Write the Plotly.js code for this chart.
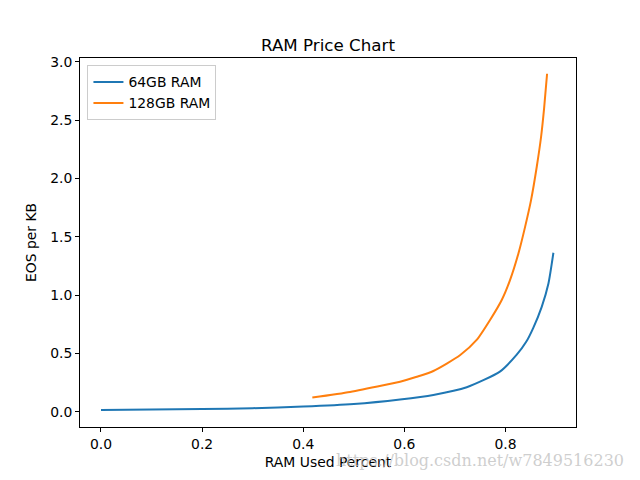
<!DOCTYPE html>
<html>
<head>
<meta charset="utf-8">
<script src="https://cdn.plot.ly/plotly-3.0.1.min.js"></script>
<style>
  html, body { margin: 0; padding: 0; background: #fff; }
  #chart { width: 640px; height: 480px; }
</style>
</head>
<body>
<div id="chart"></div>
<script>
// values
const usedPct64 = [0.0, 0.1, 0.2, 0.3, 0.4, 0.5, 0.5915, 0.6574, 0.7234, 0.789, 0.8223, 0.841, 0.855, 0.8717, 0.885, 0.8948];
const price64 = [0.016, 0.019, 0.024, 0.031, 0.045, 0.067, 0.106, 0.145, 0.211, 0.345, 0.49, 0.60, 0.72, 0.90, 1.10, 1.363];

const usedPct128 = [0.418, 0.4926, 0.5585, 0.5915, 0.6245, 0.6574, 0.71, 0.743, 0.7695, 0.7926, 0.809, 0.8256, 0.8388, 0.8506, 0.8619, 0.8704, 0.8764, 0.8823];
const price128 = [0.122, 0.17, 0.227, 0.258, 0.30, 0.35, 0.485, 0.616, 0.787, 0.958, 1.129, 1.357, 1.585, 1.814, 2.10, 2.355, 2.60, 2.897];

const xTicks = [0, 0.2, 0.4, 0.6, 0.8];
const yTicks = [0, 0.5, 1.0, 1.5, 2.0, 2.5, 3.0];

const font = 'DejaVu Sans, sans-serif';

const traces = [
    {
        x: usedPct64, y: price64, name: '64GB RAM', type: 'scatter', mode: 'lines',
        line: {color: '#1f77b4', width: 2, shape: 'spline', smoothing: 0.6}
    },
    {
        x: usedPct128, y: price128, name: '128GB RAM', type: 'scatter', mode: 'lines',
        line: {color: '#ff7f0e', width: 2, shape: 'spline', smoothing: 0.6}
    }
];

const axisStyle = {
    showgrid: false,
    zeroline: false,
    showline: true,
    mirror: true,
    linecolor: '#000',
    linewidth: 1,
    ticks: 'outside',
    ticklen: 4,
    tickwidth: 1,
    tickcolor: '#000',
    tickformat: '.1f',
    tickfont: {family: font, size: 13.9, color: '#000'}
};

const layout = {
    width: 640,
    height: 480,
    margin: {l: 80, r: 64, t: 58, b: 53},
    paper_bgcolor: '#fff',
    plot_bgcolor: '#fff',
    font: {family: font, color: '#000'},
    title: {
        text: 'RAM Price Chart',
        font: {family: font, size: 16.7, color: '#000'},
        x: 0.5, xref: 'paper',
        y: 1, yref: 'paper', yanchor: 'bottom',
        pad: {b: 7}
    },
    xaxis: {
        ...axisStyle,
        range: [-0.0415, 0.9395],
        tickvals: xTicks,
        title: {text: 'RAM Used Percent', font: {family: font, size: 13.9, color: '#000'}, standoff: 6}
    },
    yaxis: {
        ...axisStyle,
        range: [-0.13, 3.032],
        tickvals: yTicks,
        title: {text: 'EOS per KB', font: {family: font, size: 13.9, color: '#000'}, standoff: 10}
    },
    showlegend: true,
    legend: {
        x: 0.015, y: 0.98, xanchor: 'left', yanchor: 'top',
        bgcolor: 'rgba(255,255,255,0.8)',
        bordercolor: '#cccccc',
        borderwidth: 1,
        itemwidth: 30,
        tracegroupgap: 0,
        font: {family: font, size: 13.9, color: '#000'}
    },
    annotations: [{
        text: 'https://blog.csdn.net/w7849516230',
        xref: 'paper', yref: 'paper',
        x: 1.1, y: -0.09, xanchor: 'right', yanchor: 'middle',
        showarrow: false,
        font: {family: 'DejaVu Serif, serif', size: 16, color: 'rgba(190,190,190,0.75)'}
    }]
};

Plotly.newPlot('chart', traces, layout, {displayModeBar: false, staticPlot: true});
</script>
</body>
</html>
